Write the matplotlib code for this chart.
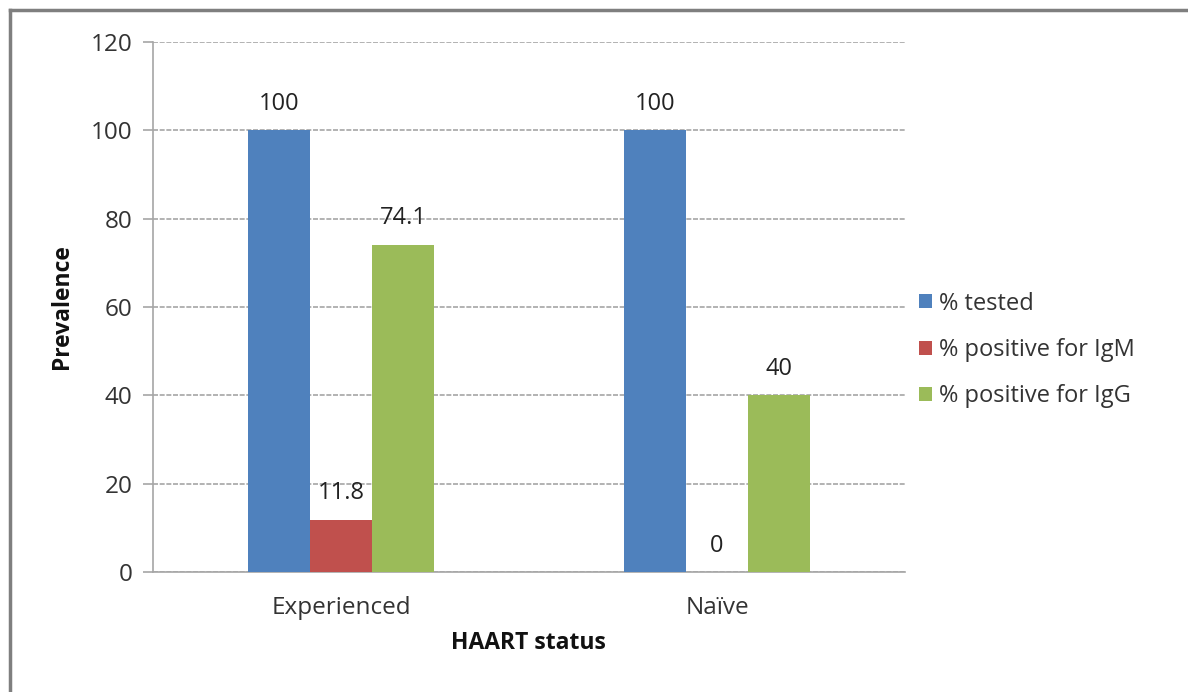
import matplotlib
matplotlib.use("Agg")
import matplotlib.pyplot as plt
from matplotlib.lines import Line2D

categories = ["Experienced", "Naïve"]
series_names = ["% tested", "% positive for IgM", "% positive for IgG"]
tested = [100, 100]
igm = [11.8, 0]
igg = [74.1, 40]
value_labels = [["100", "100"], ["11.8", "0"], ["74.1", "40"]]
colors = ["#4F81BD", "#C0504D", "#9BBB59"]

plt.rcParams['font.family'] = ['Open Sans', 'DejaVu Sans']

fig = plt.figure(figsize=(11.88, 6.92), dpi=100)
W, H = 1188, 692
ax = fig.add_axes([153 / W, 1 - 572 / H, (905 - 153) / W, (572 - 42) / H])

bw = 0.165
offsets = [-bw, 0, bw]
data = [tested, igm, igg]
xs = list(range(len(categories)))
for i, (vals, name, col) in enumerate(zip(data, series_names, colors)):
    pos = [x + offsets[i] for x in xs]
    bars = ax.bar(pos, vals, width=bw, color=col, label=name, zorder=3)
    for b, v, lab in zip(bars, vals, value_labels[i]):
        ax.annotate(lab, (b.get_x() + b.get_width() / 2, v), xytext=(0, 19),
                    textcoords='offset points', ha='center', va='center',
                    fontsize=17, color='#222222')

ax.set_xlim(-0.5, 1.5)
ax.set_ylim(0, 120)
ax.set_yticks(range(0, 121, 20))
ax.set_xticks(xs)
ax.set_xticklabels(categories, fontsize=17.5, color='#333333')
ax.tick_params(axis='y', labelsize=17.5, labelcolor='#333333', length=7, width=1.2,
               direction='out', pad=8, color='#A6A6A6')
ax.tick_params(axis='x', length=0, pad=17)
ax.yaxis.grid(True, color='#A6A6A6', linewidth=1.2, linestyle=(0, (3, 1)), zorder=0)
for s in ['top', 'right']:
    ax.spines[s].set_visible(False)
ax.spines['left'].set_color('#A6A6A6')
ax.spines['bottom'].set_color('#A6A6A6')
ax.spines['left'].set_linewidth(1.2)
ax.spines['bottom'].set_linewidth(1.2)

fig.text(528 / W, 1 - 643 / H, "HAART status", ha='center', va='center',
         fontsize=16.5, fontweight='bold', color='#111111')
fig.text(62 / W, 1 - 307 / H, "Prevalence", ha='center', va='center',
         fontsize=16.5, fontweight='bold', rotation=90, color='#111111')

leg = ax.legend(loc='center left', bbox_to_anchor=(898 / W, 1 - 350 / H),
                bbox_transform=fig.transFigure, frameon=False, fontsize=17,
                handlelength=0.55, handleheight=0.55, handletextpad=0.3,
                labelspacing=0.95, labelcolor='#333333')

# outer frame lines
fig.add_artist(Line2D([10 / W, 1], [1 - 10 / H, 1 - 10 / H], color='#7F7F7F',
                      linewidth=2.5, transform=fig.transFigure))
fig.add_artist(Line2D([10 / W, 10 / W], [0, 1 - 10 / H], color='#7F7F7F',
                      linewidth=2.5, transform=fig.transFigure))

fig.savefig("out.png", dpi=100)
